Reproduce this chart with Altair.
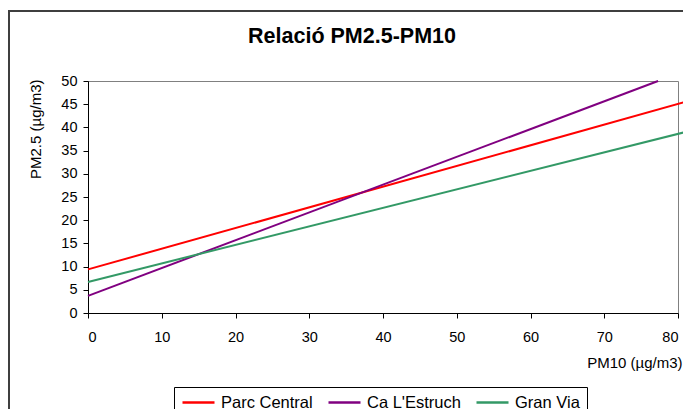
import altair as alt
import pandas as pd

# ---- data ----
series = ["Parc Central", "Ca L'Estruch", "Gran Via"]
colors = ["#FF0000", "#800080", "#339966"]

pm10_parc = [0, 81]
pm25_parc = [9.4, 45.5]
pm10_ca = [0, 77.3]
pm25_ca = [3.7, 50.0]
pm10_gran = [0, 81]
pm25_gran = [6.7, 39.0]

x_ticks = [0, 10, 20, 30, 40, 50, 60, 70, 80]
y_ticks = [0, 5, 10, 15, 20, 25, 30, 35, 40, 45, 50]

title_text = "Relació PM2.5-PM10"
x_title = "PM10 (µg/m3)"
y_title = "PM2.5 (µg/m3)"

rows = []
for name, xs, ys in [
    (series[0], pm10_parc, pm25_parc),
    (series[1], pm10_ca, pm25_ca),
    (series[2], pm10_gran, pm25_gran),
]:
    for xv, yv in zip(xs, ys):
        rows.append({"Series": name, "PM10": xv, "PM25": yv})
df = pd.DataFrame(rows)

FONT = "Liberation Sans"

lines = alt.Chart(df).mark_line(strokeWidth=2).encode(
    x=alt.X(
        "PM10:Q",
        scale=alt.Scale(domain=[0, 80], nice=False, zero=False),
        axis=alt.Axis(
            values=x_ticks, title=x_title, grid=False,
            domainColor="black", tickColor="black", tickSize=5,
            labelPadding=12, labelFont=FONT, labelFontSize=14.5, labelColor="black",
            titleFont=FONT, titleFontSize=15, titleFontWeight="normal", titleColor="black",
            titleX=594, titleY=49, titleAlign="right", titleBaseline="middle",
        ),
    ),
    y=alt.Y(
        "PM25:Q",
        scale=alt.Scale(domain=[0, 50], nice=False, zero=False),
        axis=alt.Axis(
            values=y_ticks, title=y_title, grid=False,
            domainColor="black", tickColor="black", tickSize=5,
            labelPadding=6, labelFont=FONT, labelFontSize=14.5, labelColor="black",
            titleFont=FONT, titleFontSize=15, titleFontWeight="normal", titleColor="black",
            titleX=-53, titleY=-2, titleAngle=270, titleAlign="right", titleBaseline="middle",
        ),
    ),
    color=alt.Color(
        "Series:N",
        sort=series,
        scale=alt.Scale(domain=series, range=colors),
        legend=alt.Legend(
            title=None, orient="none", legendX=93, legendY=304,
            direction="horizontal",
            padding=0, symbolType="stroke", symbolSize=1024, symbolStrokeWidth=2.5,
            labelFont=FONT, labelFontSize=16.5, labelColor="black",
            labelOffset=5, columnPadding=10,
        ),
    ),
)

one = pd.DataFrame({"a": [0]})

border = alt.Chart(one).mark_rect(
    fillOpacity=0, stroke="#3f3f3f", strokeWidth=2
).encode(
    x=alt.value(-79), x2=alt.value(700), y=alt.value(-70), y2=alt.value(420)
)

legend_box = alt.Chart(one).mark_rect(
    fill="white", stroke="black", strokeWidth=1
).encode(
    x=alt.value(86.5), x2=alt.value(499.5), y=alt.value(306.5), y2=alt.value(340)
)

title = alt.Chart(one).mark_text(
    font=FONT, fontSize=21.5, fontWeight="bold", align="center",
    baseline="middle", color="black"
).encode(x=alt.value(264), y=alt.value(-44), text=alt.value(title_text))

chart = alt.layer(border, legend_box, title, lines).properties(
    width=590, height=232,
    autosize=alt.AutoSizeParams(type="none"),
    padding={"left": 88, "top": 81, "right": 5, "bottom": 96},
    background="white",
).configure_view(stroke="#808080", strokeWidth=1)

chart.save("out.html", embed_options={"renderer": "svg", "actions": False})
